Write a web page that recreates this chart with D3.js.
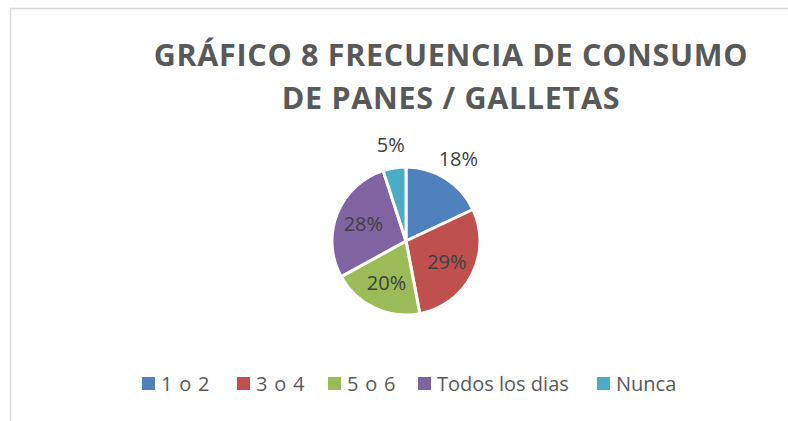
<!DOCTYPE html>
<html><head><meta charset="utf-8">
<script src="https://cdn.jsdelivr.net/npm/d3@7"></script>
<style>body{margin:0;background:#fff}svg{display:block}</style>
</head><body><svg id="c" width="788" height="421"></svg>
<script>
const categories = ["1 o 2", "3 o 4", "5 o 6", "Todos los dias", "Nunca"];
const values = [18, 29, 20, 28, 5];
const labels = ["18%", "29%", "20%", "28%", "5%"];
const colors = ["#4f81bd", "#c0504d", "#9bbb59", "#8064a2", "#4bacc6"];
const titleLines = ["GRÁFICO 8 FRECUENCIA DE CONSUMO", "DE PANES / GALLETAS"];

const svg = d3.select("#c");
const font = "'Open Sans', 'Liberation Sans', sans-serif";
svg.append("rect").attr("x",10.5).attr("y",8.5).attr("width",800).attr("height",500)
  .attr("fill","#fff").attr("stroke","#d9d9d9").attr("stroke-width",1.5);

svg.selectAll("text.title").data(titleLines).join("text").attr("class","title")
  .attr("x",451).attr("y",(d,i)=>66+i*43).attr("text-anchor","middle")
  .attr("font-family",font).attr("font-weight","bold").attr("font-size",30.5)
  .attr("letter-spacing","0.7px")
  .attr("fill","#595959").text(d=>d);

const cx=406, cy=241, r=74;
const pie = d3.pie().sort(null).value(d=>d);
const arcs = pie(values);
const arc = d3.arc().innerRadius(0).outerRadius(r);
const g = svg.append("g").attr("transform",`translate(${cx},${cy})`);
g.selectAll("path").data(arcs).join("path").attr("d",arc)
  .attr("fill",(d,i)=>colors[i]).attr("stroke","#fff").attr("stroke-width",3).attr("stroke-linejoin","round");

const inArc = d3.arc().innerRadius(r*0.62).outerRadius(r*0.62);
const outArc = d3.arc().innerRadius(r*1.32).outerRadius(r*1.32);
g.selectAll("text").data(arcs).join("text")
  .attr("transform",(d,i)=>{const c=(values[i]<=18?outArc:inArc).centroid(d);return `translate(${c[0]},${c[1]})`;})
  .attr("text-anchor","middle").attr("dy","0.35em")
  .attr("font-family",font).attr("font-size",20).attr("fill","#404040")
  .text((d,i)=>labels[i]);

const legendX = [142, 237, 328, 418, 597];
const lg = svg.append("g");
const items = lg.selectAll("g").data(categories).join("g")
  .attr("transform",(d,i)=>`translate(${legendX[i]},377)`);
items.append("rect").attr("width",13).attr("height",13).attr("fill",(d,i)=>colors[i]);
items.append("text").attr("x",19).attr("y",14).attr("font-family",font).attr("font-size",20)
  .attr("fill","#595959").attr("letter-spacing",(d,i)=>i<3?"0.8px":"0px").text(d=>d);
</script></body></html>
